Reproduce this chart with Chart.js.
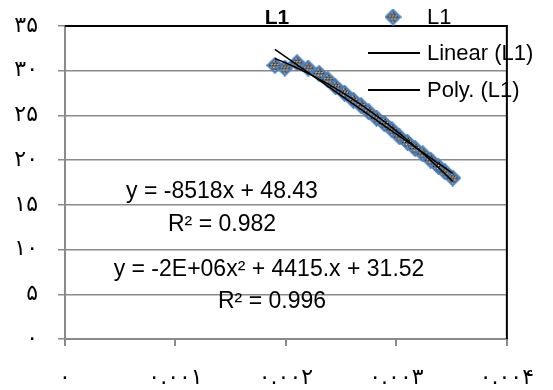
<!DOCTYPE html>
<html>
<head>
<meta charset="utf-8">
<script src="https://cdn.jsdelivr.net/npm/chart.js@4.4.0/dist/chart.umd.min.js"></script>
<style>
    html, body { margin: 0; padding: 0; background: #fff; }
</style>
</head>
<body>
<canvas id="chart" width="553" height="390"></canvas>
<script>
// series L1
const xValues = [0.00190, 0.00199, 0.00210, 0.00220, 0.00230, 0.00238, 0.00245, 0.00253, 0.00261, 0.00268, 0.00275,
                 0.00282, 0.00289, 0.00296, 0.00303, 0.00310, 0.00317, 0.00324, 0.00331, 0.00338, 0.00344, 0.00351];
const yValues = [30.6, 30.3, 30.9, 30.3, 29.7, 29.0, 28.2, 27.5, 26.7, 26.1, 25.4,
                 24.7, 24.1, 23.4, 22.6, 22.0, 21.3, 20.7, 20.0, 19.3, 18.7, 18.0];

const yTickLabels = ['۰', '۵', '۱۰', '۱۵', '۲۰', '۲۵', '۳۰', '۳۵'];
const xTickLabels = ['۰', '۰.۰۰۱', '۰.۰۰۲', '۰.۰۰۳', '۰.۰۰۴'];

const seriesName = 'L1';
const trendNames = ['Linear (L1)', 'Poly. (L1)'];
const equationTexts = ['y = -8518x + 48.43', 'R² = 0.982', 'y = -2E+06x² + 4415.x + 31.52', 'R² = 0.996'];

const textFont = '"Liberation Sans", Arial, sans-serif';
const digitFont = '"DejaVu Sans", sans-serif';

// least squares fits for the trend lines
function linearFit(xs, ys) {
    const n = xs.length;
    let sx = 0, sy = 0, sxx = 0, sxy = 0;
    for (let i = 0; i < n; i++) {
        sx += xs[i]; sy += ys[i]; sxx += xs[i] * xs[i]; sxy += xs[i] * ys[i];
    }
    const b = (n * sxy - sx * sy) / (n * sxx - sx * sx);
    const a = (sy - b * sx) / n;
    return x => a + b * x;
}

function polyFit(xs, ys) {
    // normal equations for y = a + b x + c x^2
    const S = [0, 0, 0, 0, 0], T = [0, 0, 0];
    for (let i = 0; i < xs.length; i++) {
        let p = 1;
        for (let k = 0; k < 5; k++) { S[k] += p; if (k < 3) T[k] += p * ys[i]; p *= xs[i]; }
    }
    const M = [[S[0], S[1], S[2], T[0]], [S[1], S[2], S[3], T[1]], [S[2], S[3], S[4], T[2]]];
    for (let i = 0; i < 3; i++) {
        for (let j = i + 1; j < 3; j++) {
            const f = M[j][i] / M[i][i];
            for (let k = i; k < 4; k++) M[j][k] -= f * M[i][k];
        }
    }
    const c = [0, 0, 0];
    for (let i = 2; i >= 0; i--) {
        let s = M[i][3];
        for (let k = i + 1; k < 3; k++) s -= M[i][k] * c[k];
        c[i] = s / M[i][i];
    }
    return x => c[0] + c[1] * x + c[2] * x * x;
}

const lin = linearFit(xValues, yValues);
const poly = polyFit(xValues, yValues);
const xMin = Math.min(...xValues), xMax = Math.max(...xValues);
const linearPoints = [xMin, xMax].map(x => ({ x: x, y: lin(x) }));
const polyPoints = [];
for (let i = 0; i <= 30; i++) {
    const x = xMin + (xMax - xMin) * i / 30;
    polyPoints.push({ x: x, y: poly(x) });
}

// diamond marker with the grey patterned fill
function makeMarker() {
    const s = 17, h = s / 2;
    const c = document.createElement('canvas');
    c.width = s; c.height = s;
    const g = c.getContext('2d');
    g.beginPath();
    g.moveTo(h, 1.2); g.lineTo(s - 1.2, h); g.lineTo(h, s - 1.2); g.lineTo(1.2, h); g.closePath();
    g.fillStyle = '#707070';
    g.fill();
    g.save();
    g.clip();
    g.fillStyle = '#151515';
    for (let y = 0; y < s; y += 2) for (let x = (y % 4) / 2; x < s; x += 3) g.fillRect(x, y, 1, 1);
    g.fillStyle = '#d8d8d8';
    for (let y = 1; y < s; y += 3) for (let x = 1 + (y % 2); x < s; x += 3) g.fillRect(x, y, 1, 1);
    g.restore();
    g.strokeStyle = '#4A7EBB';
    g.lineWidth = 2;
    g.stroke();
    return c;
}
const marker = makeMarker();

const decorPlugin = {
    id: 'decor',
    beforeDatasetsDraw(chart) {
        const { ctx, chartArea: a } = chart;
        ctx.save();
        ctx.strokeStyle = '#000';
        ctx.lineWidth = 2;
        ctx.beginPath();
        ctx.moveTo(a.left, a.top);
        ctx.lineTo(a.right, a.top);
        ctx.lineTo(a.right, a.bottom);
        ctx.stroke();
        ctx.restore();
    },
    afterDraw(chart) {
        const ctx = chart.ctx;
        ctx.save();
        ctx.fillStyle = '#000';
        ctx.textBaseline = 'middle';

        // title
        ctx.font = 'bold 21px ' + textFont;
        ctx.textAlign = 'center';
        ctx.fillText(seriesName, 277, 18);

        // legend
        ctx.font = '22px ' + textFont;
        ctx.textAlign = 'left';
        ctx.drawImage(marker, 393 - marker.width / 2, 17 - marker.height / 2);
        ctx.fillText(seriesName, 427, 18);
        ctx.strokeStyle = '#000';
        ctx.lineWidth = 2;
        [53, 90].forEach((y, i) => {
            ctx.beginPath();
            ctx.moveTo(368, y);
            ctx.lineTo(420, y);
            ctx.stroke();
            ctx.fillText(trendNames[i], 427, y + 1);
        });

        // trend line equations
        ctx.font = '23px ' + textFont;
        ctx.textAlign = 'center';
        ctx.fillText(equationTexts[0], 222, 192);
        ctx.fillText(equationTexts[1], 222, 225);
        ctx.fillText(equationTexts[2], 269, 270);
        ctx.fillText(equationTexts[3], 272, 302);
        ctx.restore();
    }
};

new Chart(document.getElementById('chart').getContext('2d'), {
    type: 'scatter',
    data: {
        datasets: [
            {
                label: seriesName,
                data: xValues.map((x, i) => ({ x: x, y: yValues[i] })),
                pointStyle: marker,
                pointRadius: 8,
                order: 2
            },
            {
                label: trendNames[0],
                type: 'line',
                data: linearPoints,
                borderColor: '#000',
                borderWidth: 1.5,
                pointRadius: 0,
                fill: false,
                order: 1
            },
            {
                label: trendNames[1],
                type: 'line',
                data: polyPoints,
                borderColor: '#000',
                borderWidth: 1.5,
                pointRadius: 0,
                tension: 0,
                fill: false,
                order: 0
            }
        ]
    },
    options: {
        responsive: false,
        animation: false,
        devicePixelRatio: 1,
        layout: { padding: { left: 0, right: 36, top: 26, bottom: 0 } },
        plugins: {
            legend: { display: false },
            title: { display: false },
            tooltip: { enabled: false }
        },
        scales: {
            x: {
                type: 'linear',
                min: 0,
                max: 0.004,
                ticks: {
                    stepSize: 0.001,
                    padding: 19,
                    color: '#000',
                    maxRotation: 0,
                    font: { family: digitFont, size: 22 },
                    callback: (value, index) => xTickLabels[index]
                },
                grid: { drawOnChartArea: false, drawTicks: true, tickLength: 7, color: '#8a8a8a', lineWidth: 2 },
                border: { color: '#8a8a8a', width: 2 },
                afterFit: scale => { scale.height = 51; }
            },
            y: {
                min: 0,
                max: 35,
                ticks: {
                    stepSize: 5,
                    padding: 20,
                    color: '#000',
                    font: { family: digitFont, size: 22 },
                    callback: (value, index) => yTickLabels[index]
                },
                grid: { color: '#8a8a8a', lineWidth: 1.5, tickLength: 7 },
                border: { color: '#8a8a8a', width: 2 },
                afterFit: scale => {
                    scale.width = 65;
                    // keep the plot top at the layout padding, not pushed down by label height
                    scale.paddingTop = 0;
                    scale.paddingBottom = 0;
                }
            }
        }
    },
    plugins: [decorPlugin]
});
</script>
</body>
</html>
